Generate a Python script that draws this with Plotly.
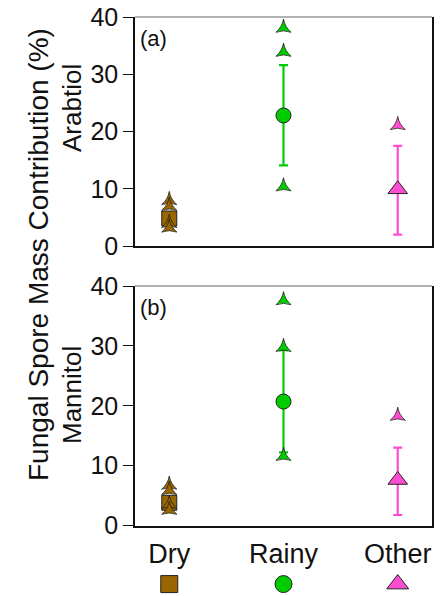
import plotly.graph_objects as go

categories = ["Dry", "Rainy", "Other"]
colors = ["#996600", "#00CC00", "#FF4DD2"]
symbols = ["square", "circle", "triangle-up"]

# Panel (a) Arabitol
a_mean = [4.8, 22.8, 9.9]
a_plus = [1.0, 8.8, 7.6]
a_minus = [1.0, 8.7, 7.9]
a_out_x = ["Dry", "Dry", "Dry", "Dry", "Rainy", "Rainy", "Rainy", "Other"]
a_out_y = [8.0, 7.0, 4.0, 3.2, 38.1, 33.9, 10.4, 21.1]

# Panel (b) Mannitol
b_mean = [3.8, 20.7, 7.6]
b_plus = [1.0, 8.6, 5.4]
b_minus = [1.0, 8.5, 5.85]
b_out_x = ["Dry", "Dry", "Dry", "Dry", "Rainy", "Rainy", "Rainy", "Other"]
b_out_y = [6.8, 5.9, 3.6, 2.6, 37.6, 29.8, 11.6, 18.3]

y_ticks = [0, 10, 20, 30, 40]

FONT = "Liberation Sans, Arial, sans-serif"
fig = go.Figure()

def add_panel(fig, xa, ya, mean, plus, minus, ox, oy):
    for i, c in enumerate(categories):
        fig.add_trace(go.Scatter(
            x=[c], y=[mean[i]], mode="markers", xaxis=xa, yaxis=ya,
            marker=dict(symbol=symbols[i], size=15 if i != 2 else 17, color=colors[i],
                        opacity=1, line=dict(color="#222222", width=1)),
            error_y=dict(type="data", array=[plus[i]], arrayminus=[minus[i]],
                         color=colors[i], thickness=2.2, width=4.5),
            showlegend=False))
    cmap = dict(zip(categories, colors))
    fig.add_trace(go.Scatter(
        x=ox, y=oy, mode="markers", xaxis=xa, yaxis=ya,
        marker=dict(symbol="star-triangle-up", size=11, color=[cmap[v] for v in ox],
                    opacity=1, line=dict(color="#222222", width=0.8)),
        showlegend=False))

add_panel(fig, "x", "y", a_mean, a_plus, a_minus, a_out_x, a_out_y)
add_panel(fig, "x2", "y2", b_mean, b_plus, b_minus, b_out_x, b_out_y)

# legend marker row
fig.add_trace(go.Scatter(
    x=categories, y=[0, 0, 0], mode="markers", xaxis="x3", yaxis="y3",
    marker=dict(symbol=symbols, size=[17, 17, 19], color=colors, opacity=1,
                line=dict(color="#222222", width=1)),
    showlegend=False))

xdom = [135 / 443, 432 / 443]
ya_dom = [1 - 246 / 596, 1 - 17 / 596]
yb_dom = [1 - 525.5 / 596, 1 - 286 / 596]

xcommon = dict(type="category", categoryorder="array", categoryarray=categories,
               range=[-0.3, 2.3], domain=xdom, showgrid=False, zeroline=False,
               showline=True, linecolor="#111111", linewidth=1.5, ticks="",
               automargin=False)
ycommon = dict(range=[0, 40], tickvals=y_ticks, showgrid=False, zeroline=False,
               showline=True, mirror=True, linecolor="#111111", linewidth=1.5,
               ticks="outside", ticklen=10, tickwidth=1, tickcolor="#111111",
               automargin=False,
               tickfont=dict(size=25, color="#111111", family=FONT))

fig.update_layout(
    width=443, height=596, margin=dict(l=0, r=0, t=0, b=0),
    paper_bgcolor="white", plot_bgcolor="white",
    font=dict(family=FONT, color="#111111"),
    xaxis=dict(**xcommon, anchor="y", showticklabels=False),
    yaxis=dict(**ycommon, domain=ya_dom, anchor="x"),
    xaxis2=dict(**xcommon, anchor="y2", showticklabels=True, ticklabelstandoff=3,
                tickfont=dict(size=27, color="#111111", family=FONT)),
    yaxis2=dict(**ycommon, domain=yb_dom, anchor="x2"),
    xaxis3=dict(type="category", categoryorder="array", categoryarray=categories,
                range=[-0.3, 2.3], domain=xdom, anchor="y3", visible=False, automargin=False),
    yaxis3=dict(range=[-1, 1], domain=[0, 0.04], anchor="x3", visible=False, automargin=False),
    shapes=[
        dict(type="line", xref="x domain", yref="y domain", x0=0, x1=1, y0=1, y1=1,
             line=dict(color="#999999", width=1.5)),
        dict(type="line", xref="x2 domain", yref="y2 domain", x0=0, x1=1, y0=1, y1=1,
             line=dict(color="#999999", width=1.5)),
    ],
    annotations=[
        dict(text="(a)", xref="x domain", yref="y domain", x=0.01, y=0.97,
             xanchor="left", yanchor="top", showarrow=False, font=dict(size=22)),
        dict(text="(b)", xref="x2 domain", yref="y2 domain", x=0.01, y=0.97,
             xanchor="left", yanchor="top", showarrow=False, font=dict(size=22)),
        dict(text="Arabtiol", xref="paper", yref="paper", x=72 / 443, y=1 - 108 / 596,
             xanchor="center", yanchor="middle", textangle=-90, showarrow=False, font=dict(size=26)),
        dict(text="Mannitol", xref="paper", yref="paper", x=72 / 443, y=1 - 395 / 596,
             xanchor="center", yanchor="middle", textangle=-90, showarrow=False, font=dict(size=26)),
        dict(text="Fungal Spore Mass Contribution (%)", xref="paper", yref="paper", x=38 / 443,
             y=1 - 255 / 596, xanchor="center", yanchor="middle", textangle=-90,
             showarrow=False, font=dict(size=28)),
    ],
)

fig.write_html("out.html")
